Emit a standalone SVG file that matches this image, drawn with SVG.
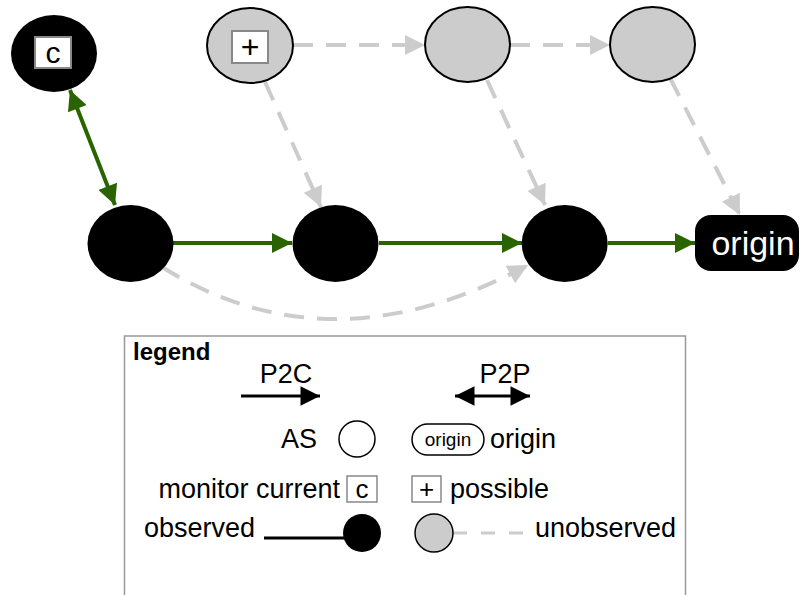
<svg xmlns="http://www.w3.org/2000/svg" width="804" height="595" viewBox="0 0 804 595">
<style>
text{font-family:"Liberation Sans",Arial,sans-serif;fill:#000}
.obs{fill:#000}
.unobs{fill:#ccc;stroke:#000;stroke-width:2}
.green{stroke:#2a6400;stroke-width:4;fill:none}
.gray{stroke:#ccc;stroke-width:4;fill:none;stroke-dasharray:20 13}
.tag{fill:#fff;stroke:#888;stroke-width:2}
.lg{font-size:27px}
</style>
<defs>
<marker id="ag" viewBox="0 0 10 10" refX="10" refY="5" markerWidth="5.5" markerHeight="5" orient="auto-start-reverse" markerUnits="strokeWidth"><path d="M0,0L10,5L0,10z" fill="#2a6400"/></marker>
<marker id="agr" viewBox="0 0 10 10" refX="10" refY="5" markerWidth="5.5" markerHeight="5" orient="auto" markerUnits="strokeWidth"><path d="M0,0L10,5L0,10z" fill="#ccc"/></marker>
<marker id="ab" viewBox="0 0 10 10" refX="10" refY="5" markerWidth="7" markerHeight="6.5" orient="auto-start-reverse" markerUnits="strokeWidth"><path d="M0,0L10,5L0,10z" fill="#000"/></marker>
</defs>

<g id="connectors">
<path class="green" d="M70,90 L115,205" marker-start="url(#ag)" marker-end="url(#ag)"/>
<path class="green" d="M173,243 L292,243" marker-end="url(#ag)"/>
<path class="green" d="M379,243 L522,243" marker-end="url(#ag)"/>
<path class="green" d="M608,243 L695,243" marker-end="url(#ag)"/>
<path class="gray" d="M293,45 L425,45" marker-end="url(#agr)"/>
<path class="gray" d="M510,45 L610,45" marker-end="url(#agr)"/>
<path class="gray" d="M265,82 L321,207" marker-end="url(#agr)"/>
<path class="gray" d="M487,80 L545,205" marker-end="url(#agr)"/>
<path class="gray" d="M670,78 L740,215" marker-end="url(#agr)"/>
<path class="gray" d="M162,267 Q330,372 528,265" marker-end="url(#agr)"/>
</g>

<g id="node-c">
<ellipse class="obs" cx="54" cy="53.5" rx="43" ry="38.5"/>
<rect class="tag" x="35" y="37" width="36" height="31"/>
<text x="53" y="63" font-size="30" text-anchor="middle">c</text>
</g>
<g id="node-plus">
<ellipse class="unobs" cx="250" cy="45.5" rx="43" ry="37.5"/>
<rect class="tag" x="232" y="31" width="36" height="32"/>
<text x="250" y="58" font-size="32" text-anchor="middle">+</text>
</g>
<g id="node-top3"><ellipse class="unobs" cx="467.5" cy="44.5" rx="42.5" ry="37.5"/></g>
<g id="node-top4"><ellipse class="unobs" cx="652.5" cy="44.5" rx="42.5" ry="37.5"/></g>
<g id="node-b1"><ellipse class="obs" cx="130.5" cy="243.5" rx="43" ry="38.5"/></g>
<g id="node-b2"><ellipse class="obs" cx="335.5" cy="243.5" rx="43" ry="38.5"/></g>
<g id="node-b3"><ellipse class="obs" cx="564.7" cy="243.5" rx="43" ry="38.5"/></g>
<g id="node-origin">
<rect x="695" y="215" width="104" height="56" rx="16" fill="#000"/>
<text x="753" y="255" font-size="34" text-anchor="middle" style="fill:#fff">origin</text>
</g>

<g id="legend">
<rect x="124.5" y="336" width="561" height="300" fill="#fff" stroke="#999" stroke-width="1.5"/>
<text x="133" y="360" font-size="24" font-weight="bold">legend</text>
<text class="lg" x="286" y="383" text-anchor="middle">P2C</text>
<path d="M241,396 L320,396" stroke="#000" stroke-width="3" marker-end="url(#ab)"/>
<text class="lg" x="505" y="383" text-anchor="middle">P2P</text>
<path d="M455,396 L530,396" stroke="#000" stroke-width="3" marker-start="url(#ab)" marker-end="url(#ab)"/>
<text class="lg" x="317" y="448" text-anchor="end">AS</text>
<circle cx="357" cy="439" r="18" fill="#fff" stroke="#000" stroke-width="1.5"/>
<rect x="412" y="424" width="72" height="31" rx="15.5" fill="#fff" stroke="#000" stroke-width="1.5"/>
<text x="448" y="446" font-size="19" text-anchor="middle">origin</text>
<text class="lg" x="490" y="448">origin</text>
<text class="lg" x="340" y="498" text-anchor="end">monitor current</text>
<rect x="347" y="476" width="30" height="26" fill="#fff" stroke="#888" stroke-width="1.5"/>
<text x="362" y="498" font-size="26" text-anchor="middle">c</text>
<rect x="412" y="476" width="29" height="26" fill="#fff" stroke="#888" stroke-width="1.5"/>
<text x="426.5" y="498" font-size="26" text-anchor="middle">+</text>
<text class="lg" x="450" y="498">possible</text>
<text class="lg" x="255" y="537" text-anchor="end">observed</text>
<path d="M264,538 L345,538" stroke="#000" stroke-width="3"/>
<circle cx="362" cy="533" r="19" fill="#000"/>
<path d="M453,533 L525,533" stroke="#ccc" stroke-width="3" stroke-dasharray="14 14"/>
<circle cx="434" cy="533" r="19" fill="#ccc" stroke="#000" stroke-width="1.5"/>
<text class="lg" x="535" y="537">unobserved</text>
</g>
</svg>
